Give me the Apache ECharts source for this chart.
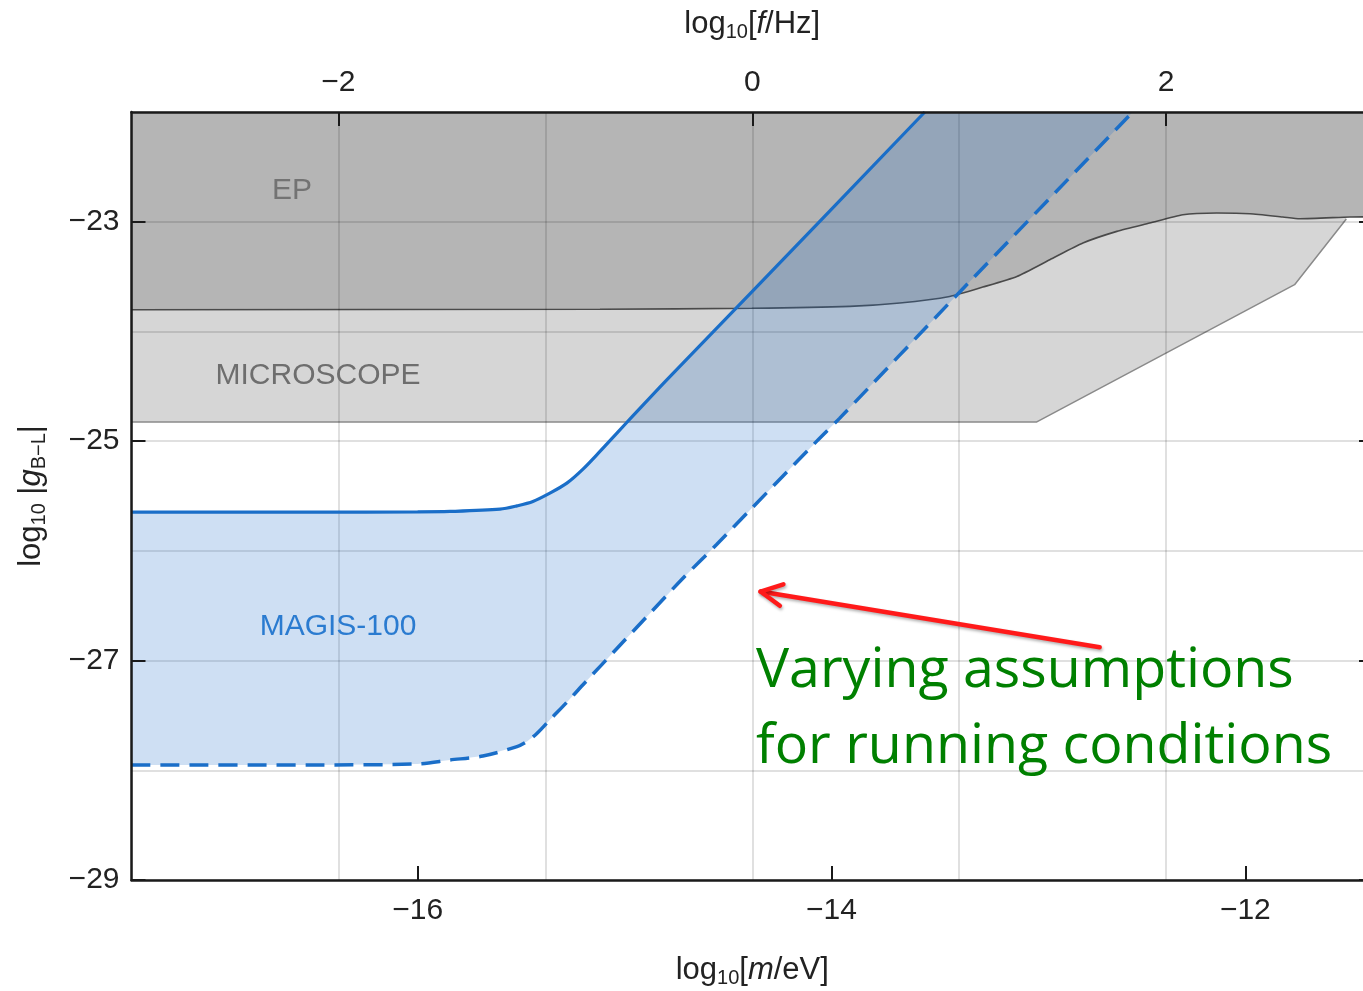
<!DOCTYPE html>
<html>
<head>
<meta charset="utf-8">
<script src="https://cdn.jsdelivr.net/npm/echarts@6.0.0/dist/echarts.min.js"></script>
<style>
html,body{margin:0;padding:0;background:#fff;}
#chart{width:1363px;height:991px;}
</style>
</head>
<body>
<div id="chart"></div>
<script>
// ---------- data ----------
// x: log10[m/eV], y: log10|g_{B-L}|
const massRange = [-17.383, -11.383];      // bottom axis extent
const freqRange = [-3, 3];                 // top axis extent (log10 f/Hz)
const yRange = [-29, -22];
const massTicks = [-16, -14, -12];
const freqTicks = [-2, 0, 2];
const yTicks = [-29, -27, -25, -23];

// MAGIS-100, optimistic (solid) sensitivity curve
const solidM = [-17.383, -16.5, -16.0, -15.844, -15.602, -15.52, -15.443, -15.361, -15.279, -15.201, -15.119, -15.037, -14.96, -14.796, -14.385, -13.549];
const solidG = [-25.647, -25.647, -25.645, -25.641, -25.62, -25.59, -25.55, -25.474, -25.383, -25.255, -25.094, -24.927, -24.77, -24.441, -23.64, -22.0];

// MAGIS-100, alternative (dashed) sensitivity curve
const dashedM = [-17.383, -16.5, -16.0, -15.844, -15.685, -15.52, -15.47, -15.424, -15.361, -15.279, -15.201, -15.037, -14.878, -14.718, -14.554, -14.395, -14.071, -13.96, -13.395, -12.544];
const dashedG = [-27.951, -27.951, -27.942, -27.906, -27.87, -27.784, -27.735, -27.665, -27.54, -27.38, -27.22, -26.89, -26.57, -26.25, -25.94, -25.63, -25.0, -24.79, -23.67, -22.0];

// EP (equivalence principle) exclusion boundary
const epM = [-17.383, -15.119, -14.385, -13.912, -13.67, -13.429, -13.269, -13.104, -12.945, -12.785, -12.621, -12.462, -12.302, -12.138, -11.978, -11.819, -11.737, -11.495, -11.383];
const epG = [-23.802, -23.798, -23.789, -23.772, -23.741, -23.681, -23.596, -23.499, -23.347, -23.194, -23.088, -23.012, -22.936, -22.921, -22.927, -22.957, -22.973, -22.957, -22.955];

// MICROSCOPE exclusion boundary
const microM = [-17.383, -13.01, -11.762, -11.512];
const microG = [-24.826, -24.826, -23.574, -22.975];

// annotation arrow (data coordinates)
const arrowTail = [-12.704, -26.878];
const arrowTip = [-14.343, -26.371];

const regionLabels = ['EP', 'MICROSCOPE', 'MAGIS-100'];
const noteLines = ['Varying assumptions', 'for running conditions'];

// ---------- helpers ----------
const pairs = (xs, ys) => xs.map((x, i) => [x, ys[i]]);
const minus = v => String(v).replace('-', '\u2212');
const FONT = '"Liberation Sans", Arial, Helvetica, sans-serif';
const AXIS_COLOR = '#1a1a1a';
const richTitle = {
  a: {fontSize: 31, fontFamily: FONT, color: '#222', lineHeight: 36},
  i: {fontSize: 31, fontFamily: FONT, fontStyle: 'italic', color: '#222', lineHeight: 36},
  s: {fontSize: 20, fontFamily: FONT, color: '#222', verticalAlign: 'bottom'}
};
const labelStyle = {fontSize: 30, fontFamily: FONT, color: '#222'};

const chart = echarts.init(document.getElementById('chart'), null, {renderer: 'canvas'});

const option = {
  animation: false,
  backgroundColor: '#fff',
  grid: {left: 131.5, right: -10, top: 112, bottom: 111, containLabel: false, outerBoundsMode: 'none'},
  xAxis: [
    { // bottom: mass
      type: 'value', position: 'bottom', min: massRange[0], max: massRange[1], z: 6,
      axisLine: {show: true, onZero: false, lineStyle: {color: AXIS_COLOR, width: 2.5}},
      axisTick: {show: true, inside: true, length: 14, customValues: massTicks, lineStyle: {color: AXIS_COLOR, width: 2}},
      axisLabel: {show: true, customValues: massTicks, margin: 16, formatter: minus, ...labelStyle},
      splitLine: {show: false},
      name: '{a|log}{s|10}{a|[}{i|m}{a|/eV]}', nameLocation: 'middle', nameGap: 72,
      nameTextStyle: {rich: richTitle}
    },
    { // top: frequency
      type: 'value', position: 'top', min: freqRange[0], max: freqRange[1], z: 6,
      axisLine: {show: true, onZero: false, lineStyle: {color: AXIS_COLOR, width: 2.5}},
      axisTick: {show: true, inside: true, length: 14, customValues: freqTicks, lineStyle: {color: AXIS_COLOR, width: 2}},
      axisLabel: {show: true, customValues: freqTicks, margin: 14, formatter: minus, ...labelStyle},
      splitLine: {show: false},
      name: '{a|log}{s|10}{a|[}{i|f}{a|/Hz]}', nameLocation: 'middle', nameGap: 70,
      nameTextStyle: {rich: richTitle}
    },
    { // grid lines (vertical)
      type: 'value', position: 'top', min: freqRange[0], max: freqRange[1], interval: 1, z: 2,
      axisLine: {show: false}, axisTick: {show: false}, axisLabel: {show: false},
      splitLine: {show: true, lineStyle: {color: 'rgba(0,0,0,0.12)', width: 2}}
    }
  ],
  yAxis: [
    {
      type: 'value', position: 'left', min: yRange[0], max: yRange[1], interval: 1, z: 6,
      axisLine: {show: true, onZero: false, lineStyle: {color: AXIS_COLOR, width: 2.5}},
      axisTick: {show: true, inside: true, length: 14, customValues: yTicks, lineStyle: {color: AXIS_COLOR, width: 2}},
      axisLabel: {show: true, customValues: yTicks, margin: 12, formatter: minus, ...labelStyle},
      splitLine: {show: false},
      name: '{a|log}{s|10}{a| |}{i|g}{s|B\u2212L}{a||}', nameLocation: 'middle', nameGap: 82,
      nameTextStyle: {rich: richTitle}
    },
    {
      type: 'value', position: 'right', min: yRange[0], max: yRange[1], interval: 1, z: 6,
      axisLine: {show: true, onZero: false, lineStyle: {color: AXIS_COLOR, width: 2.5}},
      axisTick: {show: true, inside: true, length: 14, customValues: yTicks, lineStyle: {color: AXIS_COLOR, width: 2}},
      axisLabel: {show: false},
      splitLine: {show: false}
    },
    { // grid lines (horizontal)
      type: 'value', position: 'left', min: yRange[0], max: yRange[1], interval: 1, z: 2,
      axisLine: {show: false}, axisTick: {show: false}, axisLabel: {show: false},
      splitLine: {show: true, lineStyle: {color: 'rgba(0,0,0,0.12)', width: 2}}
    }
  ],
  series: [
    {
      name: 'MICROSCOPE', type: 'line', xAxisIndex: 0, yAxisIndex: 0, z: 1,
      data: pairs(microM, microG), showSymbol: false, symbol: 'none',
      lineStyle: {color: '#8a8a8a', width: 1.5},
      areaStyle: {color: '#d6d6d6', opacity: 1, origin: 'end'}
    },
    {
      name: 'EP', type: 'line', xAxisIndex: 0, yAxisIndex: 0, z: 1.5,
      data: pairs(epM, epG), showSymbol: false, symbol: 'none', smooth: 0.2,
      lineStyle: {color: '#4a4a4a', width: 1.6},
      areaStyle: {color: '#b5b5b5', opacity: 1, origin: 'end'}
    },
    {
      name: 'MAGIS-100 band', type: 'custom', xAxisIndex: 0, yAxisIndex: 0, z: 3, clip: true,
      data: [[solidM[0], solidG[0]]],
      renderItem: (params, api) => {
        const pts = [];
        for (let i = 0; i < solidM.length; i++) pts.push(api.coord([solidM[i], solidG[i]]));
        for (let i = dashedM.length - 1; i >= 0; i--) pts.push(api.coord([dashedM[i], dashedG[i]]));
        return {type: 'polygon', shape: {points: pts}, style: {fill: 'rgba(30,110,200,0.22)', stroke: null}};
      }
    },
    {
      name: 'MAGIS-100', type: 'line', xAxisIndex: 0, yAxisIndex: 0, z: 4,
      data: pairs(solidM, solidG), showSymbol: false, symbol: 'none', smooth: 0.3,
      lineStyle: {color: '#1a6ec8', width: 3.2}
    },
    {
      name: 'MAGIS-100 (alt.)', type: 'line', xAxisIndex: 0, yAxisIndex: 0, z: 4,
      data: pairs(dashedM, dashedG), showSymbol: false, symbol: 'none', smooth: 0.3,
      lineStyle: {color: '#1a6ec8', width: 3.5, type: [19, 10]}
    },
    {
      name: 'arrow', type: 'custom', xAxisIndex: 0, yAxisIndex: 0, z: 7, clip: false,
      data: [[arrowTail[0], arrowTail[1], arrowTip[0], arrowTip[1]]],
      renderItem: (params, api) => {
        const a = api.coord([api.value(0), api.value(1)]);
        const b = api.coord([api.value(2), api.value(3)]);
        const ang = Math.atan2(a[1] - b[1], a[0] - b[0]);
        const L = 24, da = 27 * Math.PI / 180;
        const p1 = [b[0] + L * Math.cos(ang - da), b[1] + L * Math.sin(ang - da)];
        const p2 = [b[0] + L * Math.cos(ang + da), b[1] + L * Math.sin(ang + da)];
        const st = {stroke: '#ff1a1a', lineWidth: 4.5, fill: 'none', lineCap: 'round', lineJoin: 'round',
          shadowBlur: 3, shadowColor: 'rgba(0,0,0,0.3)', shadowOffsetX: 1, shadowOffsetY: 2};
        return {type: 'group', children: [
          {type: 'line', shape: {x1: a[0], y1: a[1], x2: b[0], y2: b[1]}, style: st},
          {type: 'polyline', shape: {points: [p1, b, p2]}, style: st}
        ]};
      }
    }
  ],
  graphic: [
    {type: 'text', z: 8, x: 292, y: 191, style: {text: regionLabels[0], font: '30px ' + FONT, fill: '#737373', align: 'center', verticalAlign: 'middle'}},
    {type: 'text', z: 8, x: 318, y: 376, style: {text: regionLabels[1], font: '30px ' + FONT, fill: '#6e6e6e', align: 'center', verticalAlign: 'middle'}},
    {type: 'text', z: 8, x: 338, y: 627, style: {text: regionLabels[2], font: '30px ' + FONT, fill: '#2a7bd0', align: 'center', verticalAlign: 'middle'}},
    {type: 'text', z: 8, x: 756, y: 671, style: {text: noteLines[0], font: '55.5px "Open Sans", sans-serif', fill: '#008000', align: 'left', verticalAlign: 'middle'}},
    {type: 'text', z: 8, x: 756, y: 747, style: {text: noteLines[1], font: '55.5px "Open Sans", sans-serif', fill: '#008000', align: 'left', verticalAlign: 'middle'}}
  ]
};
chart.setOption(option);
</script>
</body>
</html>
